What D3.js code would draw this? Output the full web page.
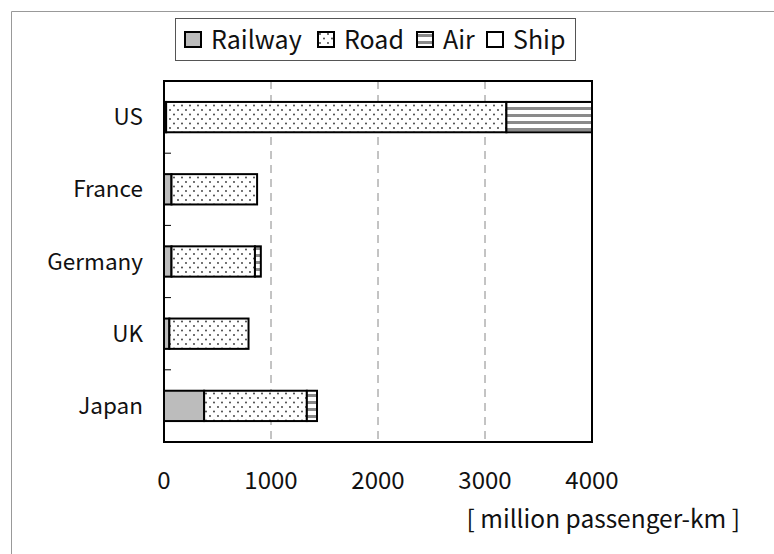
<!DOCTYPE html>
<html>
<head>
<meta charset="utf-8">
<script src="https://cdn.jsdelivr.net/npm/d3@7"></script>
<style>
  body { margin: 0; background: #fff; }
  text { font-family: "Noto Sans CJK JP", "Liberation Sans", sans-serif; fill: #111; }
</style>
</head>
<body>
<div id="chart"></div>
<script>
// data (million passenger-km)
var countries = ["US", "France", "Germany", "UK", "Japan"];
var railway = [20, 70, 70, 50, 375];
var road = [3180, 800, 780, 740, 960];
var air = [800, 0, 55, 0, 95];
var ship = [0, 0, 0, 0, 0];
var modes = ["Railway", "Road", "Air", "Ship"];
var xTicks = [0, 1000, 2000, 3000, 4000];
var unitLabel = "[ million passenger-km ]";

var width = 774, height = 554;
var plot = {left: 164, top: 81, right: 592, bottom: 442};

var svg = d3.select("#chart").append("svg")
    .attr("width", width)
    .attr("height", height);

// fills for the four modes
var defs = svg.append("defs");
var dots = defs.append("pattern")
    .attr("id", "pat-road")
    .attr("patternUnits", "userSpaceOnUse")
    .attr("width", 8).attr("height", 9);
dots.append("rect").attr("width", 8).attr("height", 9).attr("fill", "#fff");
dots.append("circle").attr("cx", 2).attr("cy", 2).attr("r", 0.9).attr("fill", "#333");
dots.append("circle").attr("cx", 6).attr("cy", 6.5).attr("r", 0.9).attr("fill", "#333");

var stripes = defs.append("pattern")
    .attr("id", "pat-air")
    .attr("patternUnits", "userSpaceOnUse")
    .attr("width", 6).attr("height", 7);
stripes.append("rect").attr("width", 6).attr("height", 7).attr("fill", "#fff");
stripes.append("rect").attr("y", 2).attr("width", 6).attr("height", 3).attr("fill", "#8a8a8a");

var fills = {
  Railway: "#bcbcbc",
  Road: "url(#pat-road)",
  Air: "url(#pat-air)",
  Ship: "#fff"
};

// outer frame (only left and top edges show)
svg.append("path")
    .attr("d", "M11.5," + height + "V11.5H" + width)
    .attr("fill", "none")
    .attr("stroke", "#999")
    .attr("stroke-width", 1);

var x = d3.scaleLinear().domain([0, 4000]).range([plot.left, plot.right]);
var y = d3.scaleBand().domain(countries).range([plot.top, plot.bottom]).paddingInner(0.58).paddingOuter(0.29);
var band = d3.scaleBand().domain(countries).range([plot.top, plot.bottom]);

// dashed grid
svg.append("g")
  .selectAll("line")
  .data(xTicks.slice(1, -1))
  .enter().append("line")
    .attr("x1", function(d) { return x(d); })
    .attr("x2", function(d) { return x(d); })
    .attr("y1", plot.top)
    .attr("y2", plot.bottom)
    .attr("stroke", "#888")
    .attr("stroke-width", 1)
    .attr("stroke-dasharray", "8,6");

// stacked bars
var rows = countries.map(function(c, i) {
  return {country: c, Railway: railway[i], Road: road[i], Air: air[i], Ship: ship[i]};
});
var series = d3.stack().keys(modes)(rows);

var groups = svg.append("g").selectAll("g")
  .data(series)
  .enter().append("g")
    .attr("fill", function(d) { return fills[d.key]; });

groups.selectAll("rect")
  .data(function(d) { return d.filter(function(p) { return p[1] - p[0] > 0; }); })
  .enter().append("rect")
    .attr("x", function(d) { return x(d[0]); })
    .attr("width", function(d) { return x(d[1]) - x(d[0]); })
    .attr("y", function(d) { return y(d.data.country); })
    .attr("height", y.bandwidth())
    .attr("stroke", "#000")
    .attr("stroke-width", 2);

// plot frame
svg.append("rect")
    .attr("x", plot.left)
    .attr("y", plot.top)
    .attr("width", plot.right - plot.left)
    .attr("height", plot.bottom - plot.top)
    .attr("fill", "none")
    .attr("stroke", "#000")
    .attr("stroke-width", 2);

// small ticks between categories on the left axis
svg.append("g").selectAll("line")
  .data(countries.slice(1))
  .enter().append("line")
    .attr("x1", plot.left)
    .attr("x2", plot.left + 7)
    .attr("y1", function(d) { return band(d); })
    .attr("y2", function(d) { return band(d); })
    .attr("stroke", "#000")
    .attr("stroke-width", 1);

// category labels
svg.append("g").selectAll("text")
  .data(countries)
  .enter().append("text")
    .attr("x", 143)
    .attr("y", function(d) { return band(d) + band.bandwidth() / 2; })
    .attr("dy", "0.36em")
    .attr("text-anchor", "end")
    .attr("font-size", 22.5)
    .text(function(d) { return d; });

// value labels
svg.append("g").selectAll("text")
  .data(xTicks)
  .enter().append("text")
    .attr("x", function(d) { return x(d); })
    .attr("y", 489)
    .attr("text-anchor", "middle")
    .attr("font-size", 24)
    .text(function(d) { return d; });

svg.append("text")
    .attr("x", 740)
    .attr("y", 528)
    .attr("text-anchor", "end")
    .attr("font-size", 24.5)
    .text(unitLabel);

// legend
var legend = svg.append("g");
legend.append("rect")
    .attr("x", 175.5).attr("y", 18.5)
    .attr("width", 400).attr("height", 42)
    .attr("fill", "#fff")
    .attr("stroke", "#555")
    .attr("stroke-width", 1);

var legendX = [185, 318, 417, 487];
var item = legend.selectAll("g.item")
  .data(modes)
  .enter().append("g")
    .attr("class", "item")
    .attr("transform", function(d, i) { return "translate(" + legendX[i] + ",32)"; });
item.append("rect")
    .attr("width", 16).attr("height", 15)
    .attr("fill", function(d) { return fills[d]; })
    .attr("stroke", "#000")
    .attr("stroke-width", 2);
item.append("text")
    .attr("x", 26)
    .attr("y", 16.5)
    .attr("font-size", 25)
    .text(function(d) { return d; });
</script>
</body>
</html>
